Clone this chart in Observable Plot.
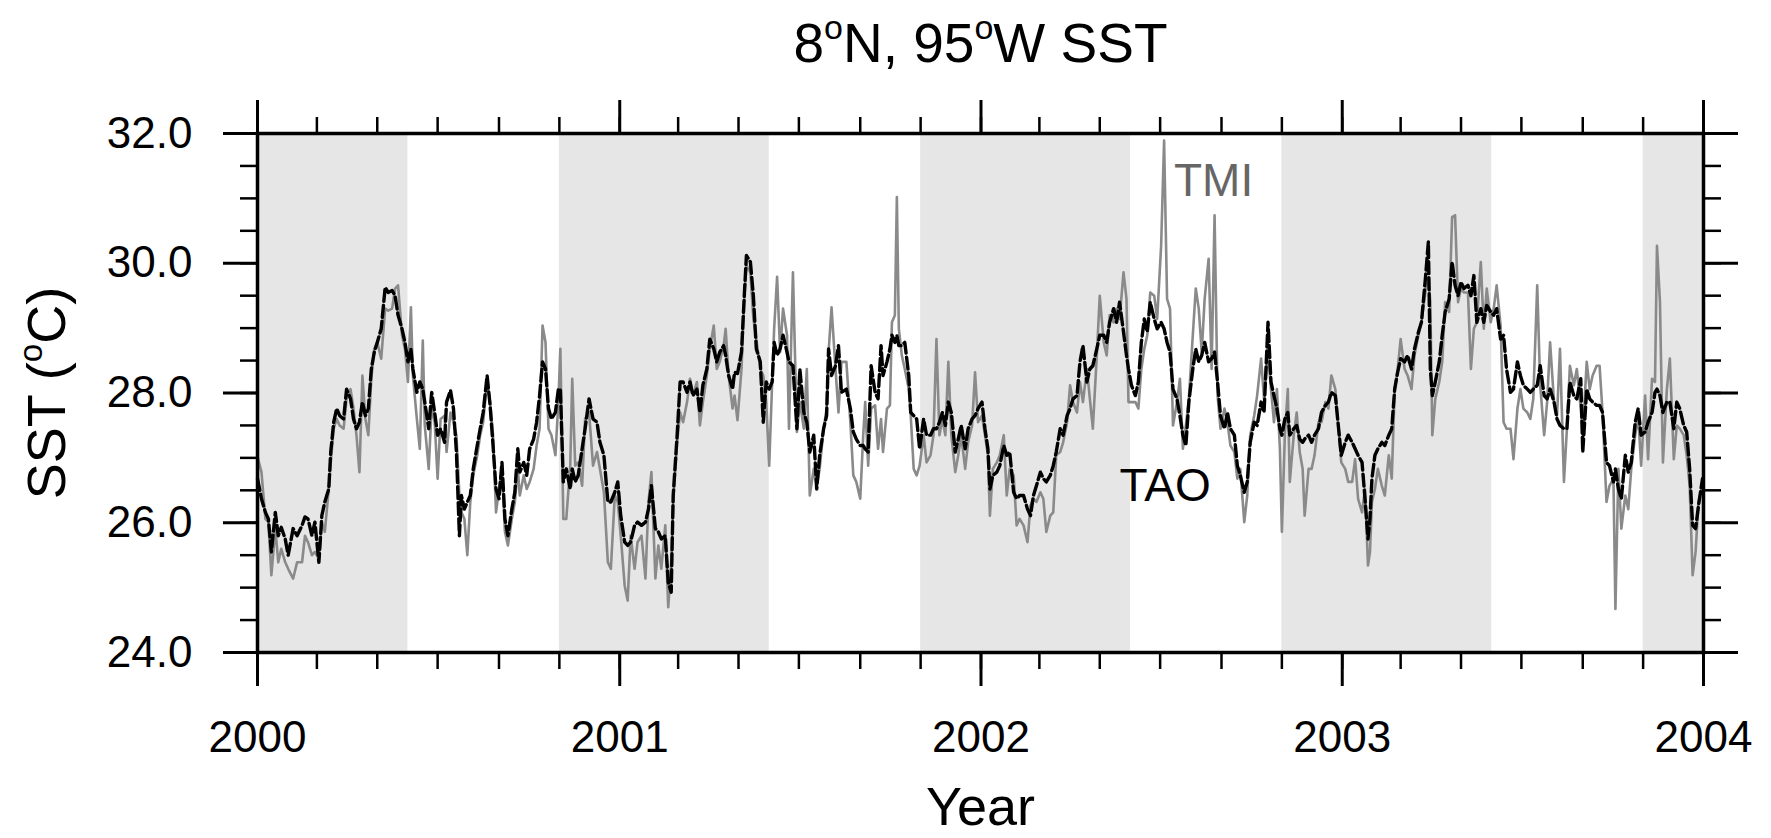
<!DOCTYPE html>
<html><head><meta charset="utf-8">
<script src="https://cdn.jsdelivr.net/npm/d3@7"></script>
<script src="https://cdn.jsdelivr.net/npm/@observablehq/plot@0.6"></script>
<style>html,body{margin:0;padding:0;background:#fff;overflow:hidden}</style>
</head><body><div id="chart"></div>
<script>
// ---- data (days since 2000-01-01, SST in deg C) ----
const dayOffsets = [
0,4,8,11,14,18,21,24,28,31,36,40,45,48,51,55,58,62,65,68,72,74,77,80,83,87,90,94,97,100,103,106,109,112,115,118,121,125,129,132,136,139,142,146,149,152,155,157,161,164,167,169,173,176,179,182,185,189,191,195,198,201,204,206,209,212,215,218,222,225,228,232,235,238,241,244,247,250,253,257,260,263,265,269,272,275,279,282,285,288,291,
294,297,301,304,306,309,312,316,318,321,324,328,331,335,339,343,346,350,354,357,361,364,367,371,374,377,381,384,388,392,395,398,402,405,408,412,415,418,420,424,427,430,434,437,440,444,447,450,454,457,461,464,467,471,473,476,480,482,485,489,492,494,498,501,504,508,511,514,517,520,522,525,528,531,535,537,541,545,548,552,555,558,562,565,568,572,575,577,580,584,
587,590,595,599,602,605,609,612,614,617,620,624,627,630,632,636,639,641,644,646,648,651,654,658,660,663,666,669,673,676,680,683,686,689,692,695,698,701,705,708,711,715,718,722,725,728,732,735,738,740,743,747,750,754,757,760,764,767,770,774,778,781,784,787,791,794,797,801,804,807,811,814,818,821,824,828,831,834,838,841,844,848,851,855,858,861,865,868,871,875,878,
880,883,887,890,893,896,899,902,906,909,913,916,919,922,925,929,932,935,938,941,945,948,951,954,957,961,964,967,970,973,977,980,983,987,990,993,997,1000,1003,1007,1010,1014,1017,1021,1024,1027,1030,1033,1035,1038,1041,1043,1047,1050,1053,1056,1058,1062,1065,1068,1072,1075,1079,1082,1085,1089,1092,1095,1099,1102,1106,1109,1112,1116,1119,1122,1124,1126,1129,1132,1136,1139,1143,1146,1149,1152,1155,1159,1162,1166,1169,
1173,1176,1180,1183,1185,1187,1190,1194,1197,1200,1204,1207,1210,1213,1216,1219,1223,1226,1229,1232,1236,1239,1242,1246,1249,1252,1256,1259,1262,1266,1269,1273,1276,1279,1283,1286,1289,1293,1296,1300,1303,1306,1310,1313,1316,1320,1323,1326,1330,1333,1337,1339,1343,1346,1349,1353,1356,1359,1363,1366,1370,1372,1375,1378,1382,1385,1388,1392,1395,1398,1402,1405,1409,1412,1414,1417,1420,1424,1427,1431,1434,1437,1441,1444,1447,1450,1453,1456,1460
];
const taoSST = [
26.68,26.37,26.16,26.06,25.55,26.16,25.80,25.93,25.75,25.50,25.91,25.80,25.96,26.09,26.06,25.80,26.01,25.39,26.11,26.32,26.52,27.09,27.55,27.76,27.65,27.60,28.06,27.91,27.60,27.45,27.55,27.86,27.65,27.76,28.37,28.63,28.78,28.99,29.63,29.55,29.58,29.50,29.20,28.99,28.78,28.48,28.68,28.37,28.01,28.17,28.06,27.86,27.45,28.01,27.70,27.35,27.45,27.24,27.86,28.04,27.76,27.09,25.80,26.42,26.21,26.32,26.42,26.83,27.19,27.45,27.70,28.27,27.81,27.19,26.52,26.37,26.93,26.06,25.80,26.21,26.47,27.14,26.78,26.93,26.73,27.14,27.29,27.55,27.96,28.48,28.37,
27.76,27.60,27.70,28.06,28.06,26.63,26.83,26.52,26.83,26.63,26.73,27.14,27.45,27.91,27.60,27.55,27.24,27.04,26.32,26.32,26.47,26.63,26.11,25.70,25.65,25.70,25.96,26.01,25.96,26.01,26.21,26.57,25.91,25.86,25.75,25.80,25.08,24.93,26.42,27.35,28.17,28.17,28.01,28.17,27.96,28.06,27.70,28.12,28.37,28.83,28.68,28.48,28.63,28.73,28.58,28.27,28.06,28.32,28.30,28.63,29.55,30.12,30.02,29.50,28.68,28.48,27.55,28.17,28.06,28.17,28.78,28.58,28.68,28.89,28.63,28.48,28.42,27.45,28.37,27.70,27.55,27.09,27.35,26.52,27.04,27.45,27.65,28.68,28.27,28.42,
28.73,28.01,28.06,27.76,27.40,27.29,27.19,27.19,27.14,27.09,28.42,28.01,27.91,28.73,28.27,28.48,28.68,28.89,28.78,28.89,28.73,28.73,28.78,28.27,27.70,27.65,27.60,27.14,27.60,27.35,27.35,27.45,27.45,27.55,27.70,27.50,27.86,27.70,27.09,27.29,27.50,27.14,27.45,27.60,27.65,27.76,27.86,27.45,27.14,26.52,26.73,26.78,26.88,27.19,27.04,27.09,26.47,26.37,26.42,26.42,26.21,26.11,26.42,26.57,26.78,26.68,26.63,26.73,26.88,27.09,27.45,27.35,27.65,27.76,27.91,27.96,28.48,28.73,28.17,28.37,28.42,28.68,28.89,28.89,28.78,29.09,29.30,29.09,29.40,28.94,28.58,
28.37,28.12,27.96,28.17,28.78,29.14,28.94,29.40,29.14,28.99,29.09,28.99,28.78,28.63,28.06,27.91,27.65,27.35,27.19,27.86,28.37,28.68,28.48,28.58,28.78,28.48,28.53,28.63,28.17,27.65,27.45,27.70,27.45,27.35,26.88,26.73,26.47,26.63,27.24,27.55,27.50,27.86,27.70,29.09,28.17,27.96,27.76,27.45,27.35,27.60,27.70,27.35,27.45,27.50,27.29,27.24,27.29,27.35,27.24,27.35,27.45,27.70,27.81,27.86,28.01,27.96,27.50,27.04,27.24,27.35,27.24,27.14,27.04,26.93,26.37,25.75,26.06,26.68,27.04,27.14,27.24,27.19,27.35,27.45,28.06,28.32,28.53,28.48,28.58,28.37,28.68,
28.94,29.09,29.76,30.33,28.37,27.96,28.17,28.48,28.89,29.25,29.45,30.02,29.66,29.50,29.71,29.61,29.66,29.50,29.81,29.09,29.30,29.09,29.35,29.25,29.20,29.30,28.83,28.89,28.37,28.01,28.06,28.48,28.27,28.12,28.06,28.01,28.06,28.12,28.42,27.96,27.91,28.06,27.86,27.60,27.50,27.45,27.45,28.17,27.96,27.91,28.22,27.09,28.06,27.91,27.86,27.81,27.81,27.70,26.93,26.88,26.63,26.83,26.52,26.37,27.04,26.78,26.93,27.55,27.76,27.35,27.40,27.55,27.70,28.01,28.06,27.96,27.70,27.86,27.86,27.45,27.86,27.76,27.50,27.40,26.83,25.96,25.91,26.27,26.68
];
const tmiSST = [
27.02,26.78,26.06,26.01,25.19,25.91,25.39,25.60,25.39,25.29,25.14,25.39,25.39,25.80,25.70,25.50,25.55,25.44,26.01,25.86,26.52,26.93,27.45,27.60,27.50,27.45,27.91,28.06,27.76,27.35,26.78,28.27,27.60,27.35,28.22,28.68,28.78,28.53,29.30,29.27,29.30,29.61,29.66,28.89,28.68,28.17,29.32,28.27,27.60,27.14,28.81,27.50,26.83,27.81,27.55,26.68,27.60,27.65,27.09,27.70,27.55,27.35,26.42,26.16,26.06,25.50,26.32,26.73,27.04,27.35,27.55,28.17,27.86,27.35,26.16,26.52,26.83,25.86,25.65,26.06,26.32,26.83,26.42,26.73,26.52,26.63,26.83,27.19,27.45,29.04,28.78,
27.45,27.35,27.04,27.86,28.68,26.06,26.06,26.88,28.22,26.88,26.93,26.57,27.60,27.70,26.88,27.09,26.83,26.47,25.39,25.29,26.42,26.32,25.80,25.03,24.80,25.80,25.29,25.70,25.80,25.14,26.32,26.78,25.14,25.65,25.29,25.96,24.70,25.39,26.32,27.24,27.70,27.55,27.86,28.22,27.96,28.17,27.50,27.86,28.27,28.68,29.04,28.37,28.48,28.73,28.99,28.27,27.76,27.96,27.58,28.37,29.50,29.97,29.86,29.14,28.83,28.37,28.27,27.86,26.88,28.17,28.99,29.79,28.63,29.30,28.89,27.45,29.86,27.40,27.86,27.45,28.37,26.42,26.83,26.57,26.83,27.45,27.76,28.63,29.32,28.37,
27.70,28.48,28.48,27.55,26.73,26.63,26.37,27.35,27.86,26.88,27.76,27.81,27.14,27.60,27.09,27.76,27.81,29.09,29.20,31.02,28.99,28.58,28.37,28.06,27.65,26.83,26.73,26.88,27.35,26.93,27.04,27.35,28.83,27.35,27.60,27.35,28.48,27.35,26.78,27.04,27.35,26.83,27.24,27.50,28.32,27.55,27.65,27.35,27.04,26.11,26.83,26.93,27.04,27.35,26.42,26.83,26.73,25.96,26.06,25.96,25.70,26.27,26.37,26.32,26.47,26.37,25.86,26.11,26.16,27.04,27.09,27.24,27.55,28.12,27.86,27.70,28.17,27.86,28.37,27.91,27.45,28.58,29.50,28.78,28.58,29.20,29.09,29.30,29.14,29.86,29.45,
27.86,27.86,27.86,27.76,28.37,28.68,28.89,29.55,29.50,29.14,30.27,31.89,29.45,29.30,27.50,27.86,28.22,27.14,27.50,27.91,28.89,29.61,29.30,28.63,29.45,30.07,28.37,30.74,27.96,27.45,27.76,27.55,27.19,27.09,26.68,26.83,26.01,26.42,27.35,27.65,27.96,28.53,27.91,28.63,28.06,27.55,28.06,27.14,25.86,27.35,28.06,26.63,27.35,27.70,27.09,26.83,26.11,26.83,26.83,27.04,27.55,27.55,27.86,27.76,28.27,28.06,27.50,26.93,26.83,26.63,26.63,26.98,26.37,26.16,26.52,25.34,25.55,26.32,26.52,26.83,26.57,26.42,27.04,26.68,28.06,28.37,28.83,28.37,28.27,28.06,28.58,
28.89,29.09,29.55,29.76,29.40,27.35,27.91,28.17,28.48,29.40,29.25,30.71,30.74,29.40,29.61,29.55,29.55,28.37,28.99,29.09,30.02,28.99,29.61,29.09,29.30,29.66,29.04,27.55,27.45,27.45,26.98,27.76,28.06,27.76,27.70,27.60,27.91,29.66,28.12,27.35,27.86,28.78,27.86,27.65,28.68,26.63,27.45,28.42,28.12,28.37,27.76,27.35,28.48,28.06,28.27,28.42,28.42,27.70,26.32,26.57,26.68,24.67,26.83,25.91,26.42,26.21,26.83,27.35,27.65,26.88,27.96,26.98,28.22,28.17,30.27,29.40,26.93,28.06,28.53,26.98,27.50,27.45,27.35,27.04,26.57,25.19,25.55,26.32,26.57
];
// axis ticks and labels
const yearTicks = ["2000-01-01","2001-01-01","2002-01-01","2003-01-01","2004-01-01"];
const yearLabels = ["2000","2001","2002","2003","2004"];
const yMajorTicks = [24, 26, 28, 30, 32];
const yMinorTicks = [24, 24.5, 25, 25.5, 26, 26.5, 27, 27.5, 28, 28.5, 29, 29.5, 30, 30.5, 31, 31.5, 32];
// shaded seasons (Nov 1 - Jun 1)
const seasonStart = ["1999-11-01","2000-11-01","2001-11-01","2002-11-01","2003-11-01"];
const seasonEnd   = ["2000-06-01","2001-06-01","2002-06-01","2003-06-01","2004-06-01"];
// in-plot series labels
const seriesNames = ["TMI", "TAO"];
const seriesLabelDates = ["2002-07-15", "2002-05-21"];
const seriesLabelValues = [31.27, 26.56];
const seriesLabelColors = ["#666666", "#000000"];

// ---- build ----
const t0 = Date.UTC(2000, 0, 1);
const xStart = new Date(t0), xEnd = new Date(Date.UTC(2004, 0, 1));
const rows = dayOffsets.map((d, i) => ({date: new Date(t0 + d * 864e5), tao: taoSST[i], tmi: tmiSST[i]}));
const bands = seasonStart.map((s, i) => ({
  start: new Date(Math.max(+new Date(s), +xStart)),
  end: new Date(Math.min(+new Date(seasonEnd[i]), +xEnd))
}));
const yearDates = yearTicks.map(s => new Date(s));
const minorDates = d3.utcMonth.every(2).range(xStart, new Date(Date.UTC(2004, 0, 2)));
const labels = seriesNames.map((n, i) => ({name: n, date: new Date(seriesLabelDates[i]), value: seriesLabelValues[i], color: seriesLabelColors[i]}));
const yearFmt = d => yearLabels[yearDates.findIndex(v => +v === +d)];
const blank = () => "";

const TITLE = "8oN, 95oW SST";
const YLAB = "SST (oC)";

const chart = Plot.plot({
  width: 1771, height: 838,
  marginLeft: 257, marginRight: 68, marginTop: 133, marginBottom: 186,
  style: {fontFamily: "'Liberation Sans', Arial, Helvetica, sans-serif", fontSize: "44px", background: "white", color: "black"},
  x: {type: "utc", domain: [xStart, xEnd], label: null},
  y: {domain: [24, 32], label: null},
  marks: [
    Plot.rect(bands, {x1: "start", x2: "end", fill: "#e6e6e6"}),
    Plot.line(rows, {x: "date", y: "tmi", stroke: "#8a8a8a", strokeWidth: 2.6}),
    Plot.line(rows, {x: "date", y: "tao", stroke: "#000", strokeWidth: 3.4, strokeDasharray: "12,4"}),
    Plot.text(labels.filter(d => d.name === "TMI"), {x: "date", y: "value", text: "name", textAnchor: "start", fill: seriesLabelColors[0], fontSize: 46}),
    Plot.text(labels.filter(d => d.name === "TAO"), {x: "date", y: "value", text: "name", textAnchor: "start", fill: seriesLabelColors[1], fontSize: 46}),
    Plot.frame({stroke: "black", strokeWidth: 3.5}),
    // bottom
    Plot.axisX(minorDates, {anchor: "bottom", tickSize: 17, strokeWidth: 2.5, tickFormat: blank, label: null}),
    Plot.axisX(yearDates, {anchor: "bottom", tickSize: 34, strokeWidth: 3, tickPadding: 34, tickFormat: yearFmt, fontSize: 44, label: null}),
    // top
    Plot.axisX(minorDates, {anchor: "top", tickSize: 17, strokeWidth: 2.5, tickFormat: blank, label: null}),
    Plot.axisX(yearDates, {anchor: "top", tickSize: 34, strokeWidth: 3, tickFormat: blank, label: null}),
    // left
    Plot.axisY(yMinorTicks, {anchor: "left", tickSize: 17, strokeWidth: 2.5, tickFormat: blank, label: null}),
    Plot.axisY(yMajorTicks, {anchor: "left", tickSize: 34, strokeWidth: 3, tickPadding: 31, tickFormat: d3.format(".1f"), fontSize: 44, label: null}),
    // right
    Plot.axisY(yMinorTicks, {anchor: "right", tickSize: 17, strokeWidth: 2.5, tickFormat: blank, label: null}),
    Plot.axisY(yMajorTicks, {anchor: "right", tickSize: 34, strokeWidth: 3, tickFormat: blank, label: null}),
    // titles
    Plot.text([TITLE], {frameAnchor: "top", lineAnchor: "middle", textAnchor: "middle", dy: -89, fontSize: 55}),
    Plot.text(["Year"], {frameAnchor: "bottom", lineAnchor: "middle", textAnchor: "middle", dy: 155, fontSize: 54}),
    Plot.text([YLAB], {frameAnchor: "left", lineAnchor: "middle", textAnchor: "middle", rotate: -90, dx: -210, fontSize: 54})
  ]
});

// superscript "o" in degree notation
const NS = "http://www.w3.org/2000/svg";
function withSup(el, parts, fs) {
  el.textContent = "";
  let prevSup = false;
  const sh = Math.round(fs * 0.42);
  for (const [s, sup] of parts) {
    const t = document.createElementNS(NS, "tspan");
    t.textContent = s;
    if (sup) { t.setAttribute("font-size", Math.round(fs * 0.62)); t.setAttribute("dy", -sh); }
    else if (prevSup) t.setAttribute("dy", sh);
    el.appendChild(t);
    prevSup = sup;
  }
}
chart.querySelectorAll("text").forEach(el => {
  if (el.textContent === TITLE) withSup(el, [["8", 0], ["o", 1], ["N, 95", 0], ["o", 1], ["W SST", 0]], 55);
  else if (el.textContent === YLAB) withSup(el, [["SST (", 0], ["o", 1], ["C)", 0]], 54);
});
document.getElementById("chart").appendChild(chart);
</script>
</body></html>
